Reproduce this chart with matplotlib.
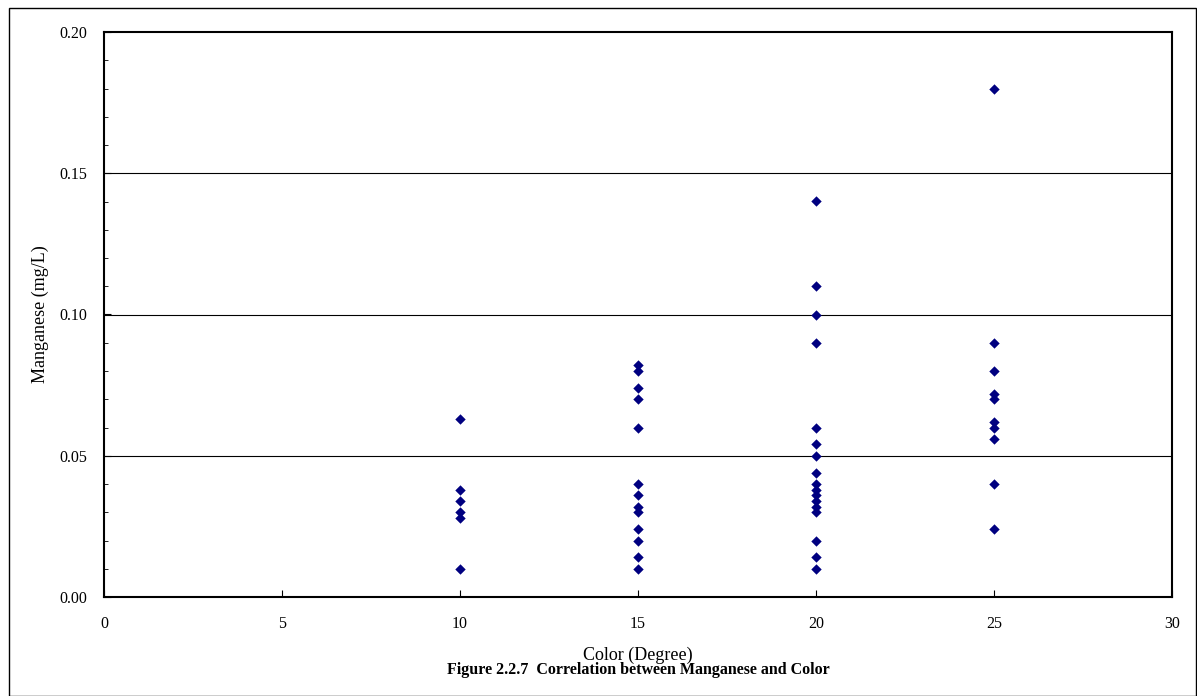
import matplotlib
matplotlib.use("Agg")
import matplotlib.pyplot as plt
from matplotlib.patches import Rectangle
from matplotlib.ticker import MultipleLocator

color_10 = [0.063, 0.038, 0.034, 0.030, 0.028, 0.010]
color_15 = [0.082, 0.080, 0.074, 0.070, 0.060, 0.040, 0.036, 0.032, 0.030,
            0.024, 0.020, 0.014, 0.010]
color_20 = [0.140, 0.110, 0.100, 0.090, 0.060, 0.054, 0.050, 0.044, 0.040,
            0.038, 0.036, 0.034, 0.032, 0.030, 0.020, 0.014, 0.010]
color_25 = [0.180, 0.090, 0.080, 0.072, 0.070, 0.062, 0.060, 0.056, 0.040, 0.024]
groups = {10: color_10, 15: color_15, 20: color_20, 25: color_25}

xs, ys = [], []
for deg, vals in groups.items():
    xs += [deg] * len(vals)
    ys += vals

plt.rcParams['font.family'] = ['Liberation Serif', 'DejaVu Serif']

W, H = 1197, 696
fig = plt.figure(figsize=(W / 100, H / 100), dpi=100)
ax = fig.add_axes([104 / W, (H - 597) / H, (1172 - 104) / W, 565 / H])

for yv in [0.05, 0.10, 0.15]:
    ax.axhline(yv, color='black', lw=0.8, zorder=1)

ax.scatter(xs, ys, marker='D', s=28, color='#000080', zorder=3, linewidths=0)

ax.set_xlim(0, 30)
ax.set_ylim(0, 0.20)
ax.xaxis.set_major_locator(MultipleLocator(5))
ax.yaxis.set_major_locator(MultipleLocator(0.05))
ax.yaxis.set_minor_locator(MultipleLocator(0.01))
ax.yaxis.set_major_formatter(matplotlib.ticker.FormatStrFormatter('%.2f'))
ax.tick_params(axis='both', which='both', direction='in', labelsize=11.5)
ax.tick_params(axis='x', which='major', length=5, pad=14)
ax.tick_params(axis='y', which='major', length=5, pad=12)
ax.tick_params(axis='y', which='minor', length=3)
for sp in ax.spines.values():
    sp.set_linewidth(1.5)

fig.text(40 / W, 1 - 314 / H, 'Manganese (mg/L)', rotation=90, ha='center', va='center',
         fontsize=13)
fig.text(638 / W, 1 - 655 / H, 'Color (Degree)', ha='center', va='center', fontsize=13)
fig.text(638 / W, 1 - 670 / H, 'Figure 2.2.7  Correlation between Manganese and Color',
         ha='center', va='center', fontsize=11.5, fontweight='bold')

fig.patches.append(Rectangle((9 / W, 0.5 / H), (1196 - 9) / W, (H - 8 - 0.5) / H,
                             transform=fig.transFigure, fill=False, lw=1, ec='black'))

fig.savefig('out.png', dpi=100)
